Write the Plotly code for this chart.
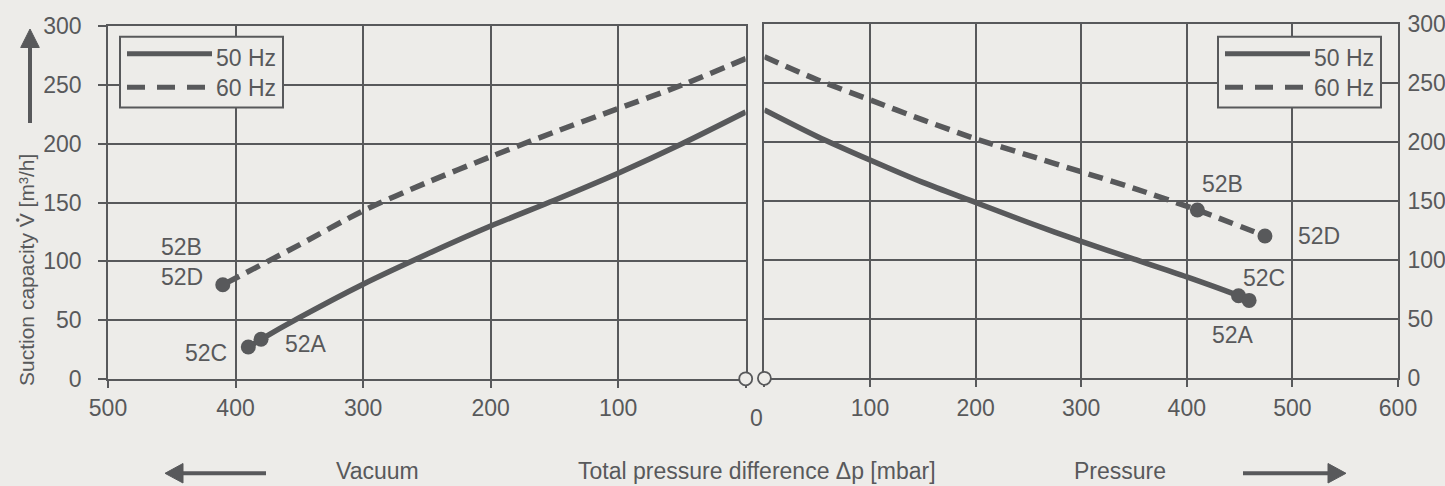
import plotly.graph_objects as go

W, H = 1445, 486
BG = "#edece9"
INK = "#58595b"
FONT = "Liberation Sans, Arial, sans-serif"
FS = 23

# ---------------- data ----------------
# Vacuum side (x = vacuum in mbar, axis reversed)
vac_50_x = [0, 50, 100, 150, 200, 250, 300, 350, 380, 390]
vac_50_y = [227, 200, 175, 152, 130, 106, 80.5, 52, 33.6, 27]
vac_60_x = [0, 50, 100, 150, 200, 250, 300, 350, 410]
vac_60_y = [272.5, 250, 230, 210, 189, 167, 143, 114, 80]
vac_pts_x = [380, 390, 410]
vac_pts_y = [33.6, 27, 80]

# Pressure side
prs_50_x = [0, 50, 100, 150, 200, 250, 300, 350, 400, 449, 459]
prs_50_y = [227.5, 205, 185, 166, 149, 132, 116, 101, 86, 70, 66]
prs_60_x = [0, 50, 100, 150, 200, 250, 300, 350, 410, 474]
prs_60_y = [272.5, 253, 236, 219, 203, 189, 175, 161, 142.6, 120.6]
prs_pts_x = [410, 474, 449, 459]
prs_pts_y = [142.6, 120.6, 70, 66]

vac_labels = ["52B", "52D", "52C", "52A"]
prs_labels = ["52B", "52D", "52C", "52A"]

x_ticks_vac = [0, 100, 200, 300, 400, 500]
x_ticks_prs = [0, 100, 200, 300, 400, 500, 600]
y_ticks = [0, 50, 100, 150, 200, 250, 300]
legend_names = ["50 Hz", "60 Hz"]

# label placement (data coordinates of each side)
vac_label_pos = [(442, 112), (442, 87), (423, 22), (345, 30)]
prs_label_pos = [(434, 165), (525, 121), (473, 85), (444, 37)]


def P(x, y):
    return x / W, 1 - y / H


fig = go.Figure()

line_kw = dict(color=INK, width=5.5)
SM = 0.8
fig.add_trace(go.Scatter(x=vac_50_x, y=vac_50_y, mode="lines", line=dict(**line_kw, shape="spline", smoothing=SM),
                         xaxis="x", yaxis="y", showlegend=False, hoverinfo="skip"))
fig.add_trace(go.Scatter(x=vac_60_x, y=vac_60_y, mode="lines", line=dict(**line_kw, dash="15px,8px", shape="spline", smoothing=SM),
                         xaxis="x", yaxis="y", showlegend=False, hoverinfo="skip"))
fig.add_trace(go.Scatter(x=vac_pts_x, y=vac_pts_y, mode="markers", marker=dict(color=INK, size=15),
                         xaxis="x", yaxis="y", showlegend=False, cliponaxis=False))
fig.add_trace(go.Scatter(x=prs_50_x, y=prs_50_y, mode="lines", line=dict(**line_kw, shape="spline", smoothing=SM),
                         xaxis="x2", yaxis="y2", showlegend=False, hoverinfo="skip"))
fig.add_trace(go.Scatter(x=prs_60_x, y=prs_60_y, mode="lines", line=dict(**line_kw, dash="15px,8px", shape="spline", smoothing=SM),
                         xaxis="x2", yaxis="y2", showlegend=False, hoverinfo="skip"))
fig.add_trace(go.Scatter(x=prs_pts_x, y=prs_pts_y, mode="markers", marker=dict(color=INK, size=15),
                         xaxis="x2", yaxis="y2", showlegend=False, cliponaxis=False))
# open circles marking the axis break at 0
fig.add_trace(go.Scatter(x=[0], y=[0], mode="markers", cliponaxis=False,
                         marker=dict(color=BG, size=13, line=dict(color=INK, width=1.8)),
                         xaxis="x", yaxis="y", showlegend=False))
fig.add_trace(go.Scatter(x=[0], y=[0], mode="markers", cliponaxis=False,
                         marker=dict(color=BG, size=13, line=dict(color=INK, width=1.8)),
                         xaxis="x2", yaxis="y2", showlegend=False))

ax_common = dict(showgrid=True, gridcolor=INK, gridwidth=1.6, showline=True, linecolor=INK,
                 linewidth=1.6, mirror=True, zeroline=False, automargin=False, layer="below traces",
                 tickfont=dict(family=FONT, size=FS, color=INK))

fig.update_layout(
    width=W, height=H, margin=dict(l=0, r=0, t=0, b=0, autoexpand=False),
    paper_bgcolor=BG, plot_bgcolor=BG,
    font=dict(family=FONT, size=FS, color=INK),
    showlegend=False,
    xaxis=dict(domain=[108 / W, 745.7 / W], range=[500, 0], tickmode="array",
               tickvals=x_ticks_vac, ticktext=[""] + [str(v) for v in x_ticks_vac[1:]],
               ticks="outside", ticklen=7, tickwidth=1.6, tickcolor=INK, ticklabelstandoff=1,
               anchor="y", **ax_common),
    yaxis=dict(domain=[1 - 378.8 / H, 1 - 26.3 / H], range=[0, 300], tickmode="array",
               tickvals=y_ticks, ticks="outside", ticklen=8, tickwidth=1.6, tickcolor=INK,
               ticklabelstandoff=12, anchor="x", **ax_common),
    xaxis2=dict(domain=[764.4 / W, 1398 / W], range=[0, 600], tickmode="array",
                tickvals=x_ticks_prs, ticktext=[""] + [str(v) for v in x_ticks_prs[1:]],
                ticks="outside", ticklen=7, tickwidth=1.6, tickcolor=INK, ticklabelstandoff=1,
                anchor="y2", **ax_common),
    yaxis2=dict(domain=[1 - 378.3 / H, 1 - 24.3 / H], range=[0, 300], tickmode="array",
                tickvals=y_ticks, side="right", ticks="", ticklabelstandoff=3,
                anchor="x2", **ax_common),
)

shapes = []
annotations = []


def line_px(x0, y0, x1, y1, width=4, dash=None):
    a, b = P(x0, y0)
    c, d = P(x1, y1)
    ln = dict(color=INK, width=width)
    if dash:
        ln["dash"] = dash
    shapes.append(dict(type="line", xref="paper", yref="paper", x0=a, y0=b, x1=c, y1=d, line=ln, layer="above"))


def tri_px(pts):
    coords = [P(x, y) for x, y in pts]
    path = "M " + " L ".join(f"{x},{y}" for x, y in coords) + " Z"
    shapes.append(dict(type="path", xref="paper", yref="paper", path=path, fillcolor=INK,
                       line=dict(color=INK, width=1), layer="above"))


def text_px(x, y, s, xanchor="center", yanchor="middle", angle=0, size=FS):
    a, b = P(x, y)
    annotations.append(dict(xref="paper", yref="paper", x=a, y=b, text=s, showarrow=False,
                            xanchor=xanchor, yanchor=yanchor, textangle=angle,
                            font=dict(family=FONT, size=size, color=INK)))


# legends (drawn as boxes)
for bx0, bx1 in [(120, 283), (1218, 1381)]:
    a, b = P(bx0, 36.7)
    c, d = P(bx1, 107.5)
    shapes.append(dict(type="rect", xref="paper", yref="paper", x0=a, y0=d, x1=c, y1=b,
                       fillcolor=BG, line=dict(color=INK, width=2), layer="above"))
    off = bx0 - 120
    line_px(127 + off, 53.7, 212 + off, 53.7, width=5)
    line_px(127 + off, 87.3, 212 + off, 87.3, width=5, dash="18px,12px")
    text_px(214 + off, 58.5, legend_names[0], xanchor="left")
    text_px(214 + off, 87.5, legend_names[1], xanchor="left")

# y-axis title (with dot over the V) and arrow
text_px(26, 270, "Suction capacity V [m³/h]", angle=-90, size=21)
a, b = P(16.2, 221.5)
c, d = P(19.2, 218.5)
shapes.append(dict(type="circle", xref="paper", yref="paper", x0=a, y0=b, x1=c, y1=d,
                   fillcolor=INK, line=dict(color=INK, width=0.5), layer="above"))
line_px(30, 123, 30, 44, width=4)
tri_px([(30, 29), (20.7, 47.5), (39.3, 47.5)])

# bottom captions and arrows
text_px(756, 418, "0")
text_px(377, 486, "Vacuum", yanchor="bottom")
text_px(757, 486, "Total pressure difference Δp [mbar]", yanchor="bottom")
text_px(1120, 486, "Pressure", yanchor="bottom")
line_px(180, 473.3, 266, 473.3, width=4)
tri_px([(165, 473.3), (183, 463.5), (183, 483)])
line_px(1243, 473.3, 1330, 473.3, width=4)
tri_px([(1346, 473.3), (1328, 463.5), (1328, 483)])

# point labels
for s, (x, y) in zip(vac_labels, vac_label_pos):
    annotations.append(dict(xref="x", yref="y", x=x, y=y, text=s, showarrow=False,
                            xanchor="center", yanchor="middle", font=dict(family=FONT, size=FS, color=INK)))
for s, (x, y) in zip(prs_labels, prs_label_pos):
    annotations.append(dict(xref="x2", yref="y2", x=x, y=y, text=s, showarrow=False,
                            xanchor="center", yanchor="middle", font=dict(family=FONT, size=FS, color=INK)))

fig.update_layout(shapes=shapes, annotations=annotations)

fig.write_html("out.html", config={"displayModeBar": False},
               post_script="document.body.style.margin='0';document.body.style.overflow='hidden';")
